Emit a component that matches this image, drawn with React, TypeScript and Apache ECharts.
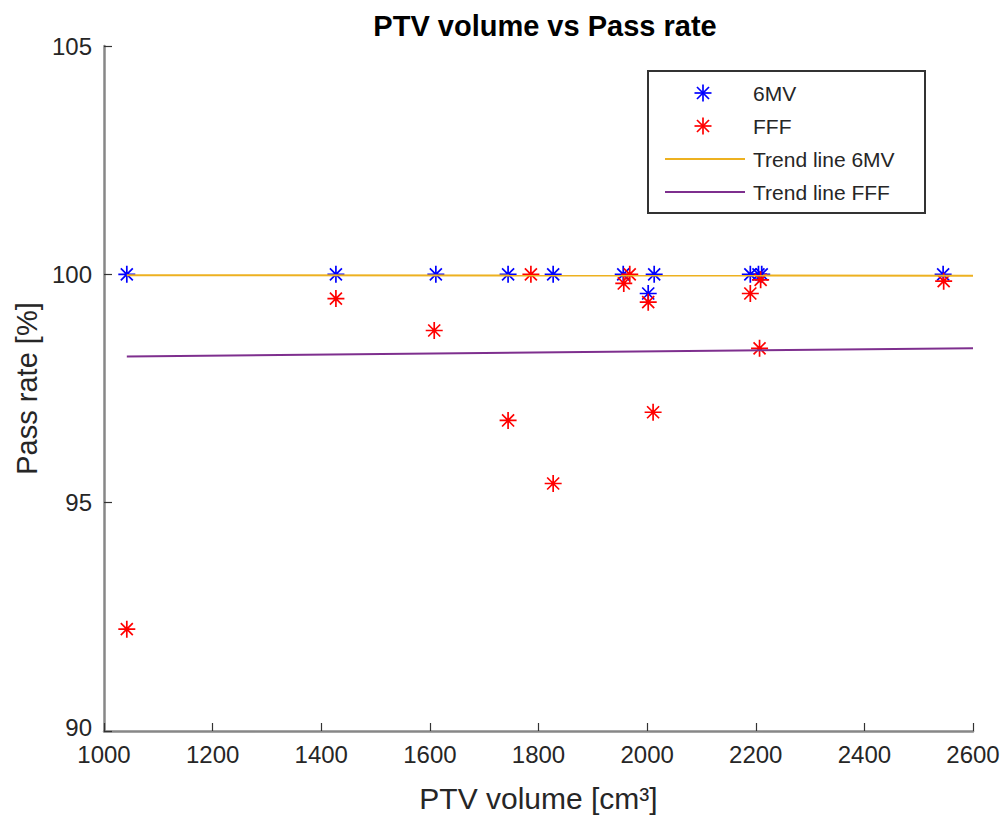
import React, { useEffect, useRef } from "react";
import * as echarts from "echarts";

const volume6MV = [1042, 1427, 1611, 1744, 1827, 1956, 2002, 2013, 2190, 2205, 2211, 2545];
const pass6MV = [100, 100, 100, 100, 100, 100, 99.58, 100, 100, 100, 100, 100];
const volumeFFF = [1042, 1427, 1608, 1744, 1786, 1827, 1957, 1968, 2002, 2011, 2190, 2209, 2207, 2546];
const passFFF = [92.23, 99.47, 98.77, 96.8, 100, 95.42, 99.8, 100, 99.39, 96.98, 99.58, 99.88, 98.38, 99.85];
const trendX = [1042, 2600];
const trend6MV = [99.98, 99.97];
const trendFFF = [98.2, 98.38];
const xTicks = [1000, 2600, 200];
const yTicks = [90, 105, 5];
const legendNames = ["6MV", "FFF", "Trend line 6MV", "Trend line FFF"];

const BLUE = "#0000ff";
const RED = "#ff0000";
const YELLOW = "#edb120";
const PURPLE = "#7e2f8e";
const TXT = "#262626";
const FONT = "'Liberation Sans', Arial, Helvetica, sans-serif";
const STAR = "path://M0,-10L0,10M-10,0L10,0M-7.07,-7.07L7.07,7.07M-7.07,7.07L7.07,-7.07";

function starLines(cx: number, cy: number, color: string) {
  const r = 8.5;
  const d = r * 0.707;
  const segs = [
    [0, -r, 0, r],
    [-r, 0, r, 0],
    [-d, -d, d, d],
    [-d, d, d, -d],
  ];
  return segs.map((s) => ({
    type: "line",
    shape: { x1: cx + s[0], y1: cy + s[1], x2: cx + s[2], y2: cy + s[3] },
    style: { stroke: color, lineWidth: 1.7 },
  }));
}

export default function App() {
  const ref = useRef<HTMLDivElement>(null);
  useEffect(() => {
    if (!ref.current) return;
    const chart = echarts.init(ref.current, null, { renderer: "svg" });
    const zip = (xs: number[], ys: number[]) => xs.map((x, i) => [x, ys[i]]);
    const lx = 648, ly = 71, lw = 277, lh = 142;
    const rowY = [93, 126, 159, 192];
    const axisCommon = {
      axisLine: { show: true, lineStyle: { color: "#878787", width: 2.5 } },
      axisTick: { show: true, inside: true, length: 8, lineStyle: { color: "#333", width: 1.2 } },
      splitLine: { show: false },
    };
    const option: any = {
      animation: false,
      backgroundColor: "#ffffff",
      title: {
        text: "PTV volume vs Pass rate",
        left: 540,
        top: 6,
        textAlign: "center",
        textStyle: { fontFamily: FONT, fontSize: 29, fontWeight: "bold", color: "#000" },
      },
      grid: { left: 104, right: 31, top: 46, bottom: 92, containLabel: false },
      xAxis: {
        type: "value",
        min: xTicks[0],
        max: xTicks[1],
        interval: xTicks[2],
        name: "PTV volume [cm³]",
        nameLocation: "middle",
        nameGap: 52,
        nameTextStyle: { fontFamily: FONT, fontSize: 30, color: TXT },
        axisLabel: { fontFamily: FONT, fontSize: 24, lineHeight: 20, color: TXT, margin: 13, formatter: (v: number) => String(v) },
        ...axisCommon,
      },
      yAxis: {
        type: "value",
        min: yTicks[0],
        max: yTicks[1],
        interval: yTicks[2],
        name: "Pass rate [%]",
        nameLocation: "middle",
        nameGap: 62,
        nameTextStyle: { fontFamily: FONT, fontSize: 29, color: TXT },
        axisLabel: {
          fontFamily: FONT,
          fontSize: 24,
          lineHeight: 20,
          color: TXT,
          margin: 12,
          formatter: (v: number) => (v === yTicks[0] ? "{lo|" + v + "}" : String(v)),
          rich: { lo: { fontFamily: FONT, fontSize: 24, lineHeight: 20, color: TXT, padding: [0, 0, 8, 0] } },
        },
        ...axisCommon,
      },
      series: [
        {
          name: legendNames[0],
          type: "scatter",
          data: zip(volume6MV, pass6MV),
          symbol: STAR,
          symbolSize: 17,
          itemStyle: { color: BLUE, borderColor: BLUE, borderWidth: 1.7, opacity: 1 },
          z: 2,
        },
        {
          name: legendNames[1],
          type: "scatter",
          data: zip(volumeFFF, passFFF),
          symbol: STAR,
          symbolSize: 17,
          itemStyle: { color: RED, borderColor: RED, borderWidth: 1.7, opacity: 1 },
          z: 3,
        },
        {
          name: legendNames[2],
          type: "line",
          data: zip(trendX, trend6MV),
          showSymbol: false,
          symbol: "none",
          lineStyle: { color: YELLOW, width: 2 },
          z: 4,
        },
        {
          name: legendNames[3],
          type: "line",
          data: zip(trendX, trendFFF),
          showSymbol: false,
          symbol: "none",
          lineStyle: { color: PURPLE, width: 2 },
          z: 5,
        },
      ],
      graphic: [
        {
          type: "rect",
          shape: { x: lx, y: ly, width: lw, height: lh },
          style: { fill: "#fff", stroke: "#333", lineWidth: 2 },
          z: 100,
        },
        ...starLines(703, rowY[0], BLUE).map((e) => ({ ...e, z: 101 })),
        ...starLines(703, rowY[1], RED).map((e) => ({ ...e, z: 101 })),
        {
          type: "line",
          shape: { x1: 665, y1: rowY[2], x2: 745, y2: rowY[2] },
          style: { stroke: YELLOW, lineWidth: 2 },
          z: 101,
        },
        {
          type: "line",
          shape: { x1: 665, y1: rowY[3], x2: 745, y2: rowY[3] },
          style: { stroke: PURPLE, lineWidth: 2 },
          z: 101,
        },
        ...legendNames.map((n, i) => ({
          type: "text",
          x: 753,
          y: rowY[i],
          style: { text: n, fontFamily: FONT, fontSize: 21, fill: TXT, verticalAlign: "middle" },
          z: 101,
        })),
      ],
    };
    chart.setOption(option);
    return () => chart.dispose();
  }, []);
  return (
    <div
      ref={ref}
      style={{ position: "fixed", left: 0, top: 0, width: 1004, height: 823, background: "#fff" }}
    />
  );
}
